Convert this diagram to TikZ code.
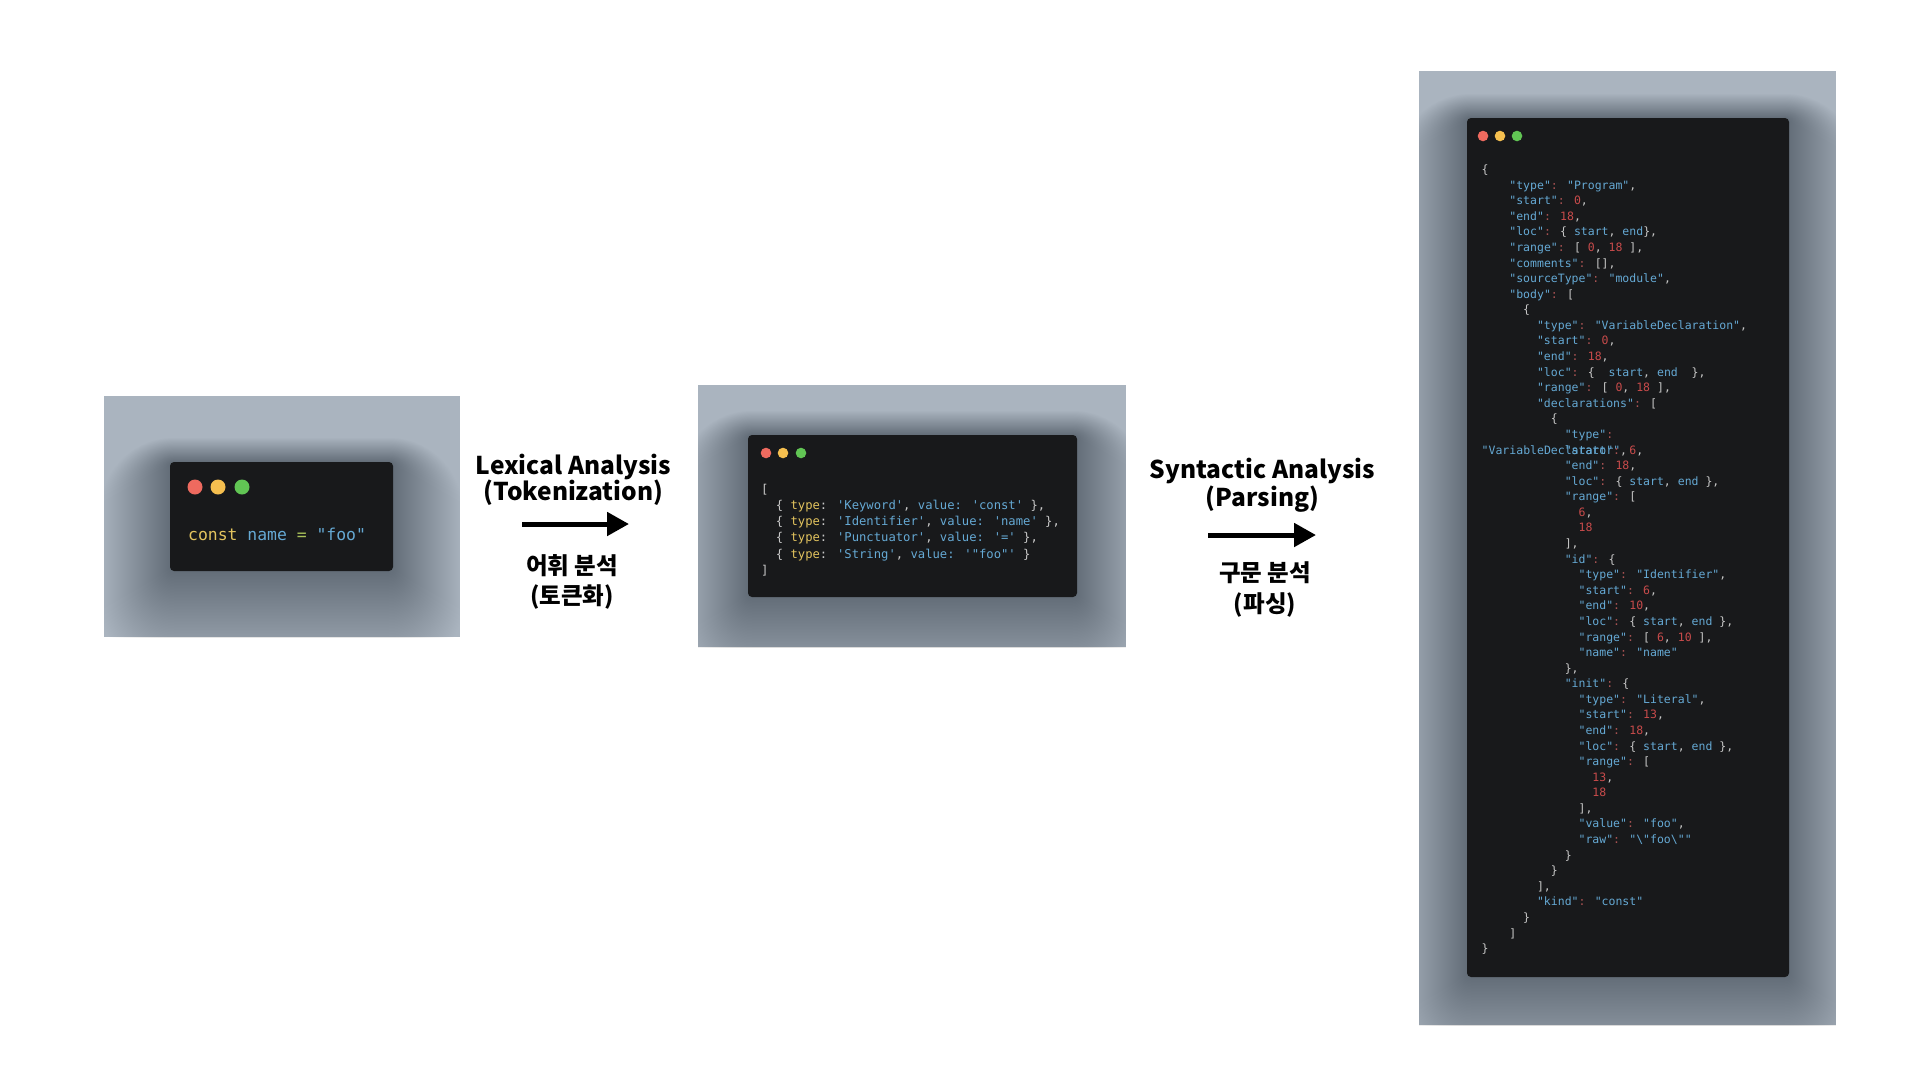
\documentclass[tikz,border=0pt]{standalone}
\usepackage{fontspec}
\usetikzlibrary{arrows.meta}
\newfontfamily\monof{DejaVu Sans Mono}
\newfontfamily\krf{Noto Sans CJK KR}
\definecolor{panelgray}{HTML}{AAB4BF}
\definecolor{winbg}{HTML}{18191B}
\definecolor{dotr}{HTML}{EE6A5F}
\definecolor{doty}{HTML}{F5BF4F}
\definecolor{dotg}{HTML}{61C554}
\definecolor{jkey}{HTML}{65A9D4}
\definecolor{jnum}{HTML}{C84B4B}
\definecolor{jcol}{HTML}{A85252}
\definecolor{jpun}{HTML}{C8C8C8}
\definecolor{jyel}{HTML}{E2C35E}
\definecolor{jgrn}{HTML}{A9C25A}
\newcommand\jK[1]{\textcolor{jkey}{#1}}
\newcommand\jN[1]{\textcolor{jnum}{#1}}
\newcommand\jC{\textcolor{jcol}{:}}
\newcommand\jY[1]{\textcolor{jyel}{#1}}
\newcommand\jG[1]{\textcolor{jgrn}{#1}}
\newcommand\jq{\textquotesingle}
\newcommand\winshadow[4]{%
  \foreach \i in {1,...,70}{%
    \pgfmathsetmacro\rr{4+1.0*\i}%
    \fill[black,opacity=0.005,rounded corners=\rr pt]
      ({#1-1.0*\i},{#2-0.35*\i}) rectangle ({#3+1.0*\i},{#4+1.5*\i});
  }%
}
% right panel line: col, line, content
\newcommand\rl[3]{\node[codeC] (r#2) at ({1481.5+6.92*#1},{173.6+15.58*(#2-1)}) {#3};}
\newcommand\ml[3]{\node[codeB] (m#2) at ({761+7.35*#1},{493+16.3*(#2-1)}) {#3};}
\begin{document}
\begin{tikzpicture}[x=1pt,y=-1pt,
  panel/.style={fill=panelgray,draw=none,inner sep=0,outer sep=0},
  window/.style={fill=winbg,draw=none,rounded corners=4pt,inner sep=0,outer sep=0},
  codeA/.style={font=\monof\fontsize{16.4}{19}\selectfont,inner sep=0,anchor=base west,text=jpun},
  codeB/.style={font=\monof\fontsize{12.2}{15}\selectfont,inner sep=0,anchor=base west,text=jpun},
  codeC/.style={font=\monof\fontsize{11.5}{14}\selectfont,inner sep=0,anchor=base west,text=jpun},
  title/.style={font=\krf\bfseries\fontsize{24.5}{28}\selectfont,inner sep=0,anchor=base,text=black},
  ktitle/.style={font=\krf\bfseries\fontsize{23.5}{28}\selectfont,inner sep=0,anchor=base,text=black},
  bigarrow/.style={line width=5pt,-{Triangle[length=22pt,width=23pt]}}
]
\useasboundingbox (0,0) rectangle (1920,1080);
\fill[white] (0,0) rectangle (1920,1080);

% ---------- panel 1 ----------
\node[panel,minimum width=356pt,minimum height=241pt] (p1) at (282,516.5) {};
\begin{scope}
  \clip (104,396) rectangle (460,637);
  \winshadow{170}{462}{393}{571}
\end{scope}
\node[window,minimum width=223pt,minimum height=109pt] (w1) at (281.5,516.5) {};
\fill[dotr] (195,487) circle[radius=7.5pt];
\fill[doty] (218,487) circle[radius=7.5pt];
\fill[dotg] (242,487) circle[radius=7.5pt];
\node[codeA] (c1) at (188,540) {\jY{const} \jK{name} \jG{=} \jK{"foo"}};

% ---------- panel 2 ----------
\node[panel,minimum width=428pt,minimum height=262pt] (p2) at (912,516) {};
\begin{scope}
  \clip (698,385) rectangle (1126,647);
  \winshadow{748}{435}{1077}{597}
\end{scope}
\node[window,minimum width=329pt,minimum height=162pt] (w2) at (912.5,516) {};
\fill[dotr] (766,453) circle[radius=5.3pt];
\fill[doty] (783,453) circle[radius=5.3pt];
\fill[dotg] (801,453) circle[radius=5.3pt];
\ml{0}{1}{[}
\ml{2}{2}{\{ \jY{type}: \jK{\jq Keyword\jq}, \jK{value:} \jK{\jq const\jq} \},}
\ml{2}{3}{\{ \jY{type}: \jK{\jq Identifier\jq}, \jK{value:} \jK{\jq name\jq} \},}
\ml{2}{4}{\{ \jY{type}: \jK{\jq Punctuator\jq}, \jK{value:} \jK{\jq=\jq} \},}
\ml{2}{5}{\{ \jY{type}: \jK{\jq String\jq}, \jK{value:} \jK{\jq"foo"\jq} \}}
\ml{0}{6}{]}

% ---------- panel 3 ----------
\node[panel,minimum width=417pt,minimum height=954pt] (p3) at (1627.5,548) {};
\begin{scope}
  \clip (1419,71) rectangle (1836,1025);
  \winshadow{1467}{118}{1789}{977}
\end{scope}
\node[window,minimum width=322pt,minimum height=859pt] (w3) at (1628,547.5) {};
\fill[dotr] (1483,136) circle[radius=5.3pt];
\fill[doty] (1500,136) circle[radius=5.3pt];
\fill[dotg] (1517,136) circle[radius=5.3pt];
\rl{0}{1}{\{}
\rl{4}{2}{\jK{"type"}\jC{} \jK{"Program"},}
\rl{4}{3}{\jK{"start"}\jC{} \jN{0},}
\rl{4}{4}{\jK{"end"}\jC{} \jN{18},}
\rl{4}{5}{\jK{"loc"}\jC{} \{ \jK{start}, \jK{end}\},}
\rl{4}{6}{\jK{"range"}\jC{} [ \jN{0}, \jN{18} ],}
\rl{4}{7}{\jK{"comments"}\jC{} [],}
\rl{4}{8}{\jK{"sourceType"}\jC{} \jK{"module"},}
\rl{4}{9}{\jK{"body"}\jC{} [}
\rl{6}{10}{\{}
\rl{8}{11}{\jK{"type"}\jC{} \jK{"VariableDeclaration"},}
\rl{8}{12}{\jK{"start"}\jC{} \jN{0},}
\rl{8}{13}{\jK{"end"}\jC{} \jN{18},}
\rl{8}{14}{\jK{"loc"}\jC{} \{~ \jK{start}, \jK{end}~ \},}
\rl{8}{15}{\jK{"range"}\jC{} [ \jN{0}, \jN{18} ],}
\rl{8}{16}{\jK{"declarations"}\jC{} [}
\rl{10}{17}{\{}
\rl{12}{18}{\jK{"type"}\jC}
\node[codeC] (r19a) at (1481.5,{173.6+15.58*18}) {\jK{"VariableDeclarator"},};
\rl{12}{19}{\jK{"start"}\jC{} \jN{6},}
\rl{12}{20}{\jK{"end"}\jC{} \jN{18},}
\rl{12}{21}{\jK{"loc"}\jC{} \{ \jK{start}, \jK{end} \},}
\rl{12}{22}{\jK{"range"}\jC{} [}
\rl{14}{23}{\jN{6},}
\rl{14}{24}{\jN{18}}
\rl{12}{25}{],}
\rl{12}{26}{\jK{"id"}\jC{} \{}
\rl{14}{27}{\jK{"type"}\jC{} \jK{"Identifier"},}
\rl{14}{28}{\jK{"start"}\jC{} \jN{6},}
\rl{14}{29}{\jK{"end"}\jC{} \jN{10},}
\rl{14}{30}{\jK{"loc"}\jC{} \{ \jK{start}, \jK{end} \},}
\rl{14}{31}{\jK{"range"}\jC{} [ \jN{6}, \jN{10} ],}
\rl{14}{32}{\jK{"name"}\jC{} \jK{"name"}}
\rl{12}{33}{\},}
\rl{12}{34}{\jK{"init"}\jC{} \{}
\rl{14}{35}{\jK{"type"}\jC{} \jK{"Literal"},}
\rl{14}{36}{\jK{"start"}\jC{} \jN{13},}
\rl{14}{37}{\jK{"end"}\jC{} \jN{18},}
\rl{14}{38}{\jK{"loc"}\jC{} \{ \jK{start}, \jK{end} \},}
\rl{14}{39}{\jK{"range"}\jC{} [}
\rl{16}{40}{\jN{13},}
\rl{16}{41}{\jN{18}}
\rl{14}{42}{],}
\rl{14}{43}{\jK{"value"}\jC{} \jK{"foo"},}
\rl{14}{44}{\jK{"raw"}\jC{} \jK{"\textbackslash"foo\textbackslash""}}
\rl{12}{45}{\}}
\rl{10}{46}{\}}
\rl{8}{47}{],}
\rl{8}{48}{\jK{"kind"}\jC{} \jK{"const"}}
\rl{6}{49}{\}}
\rl{4}{50}{]}
\rl{0}{51}{\}}

% ---------- labels and arrows ----------
\node[title] (lexA) at (573.5,474) {Lexical Analysis};
\node[title] (lexB) at (573.5,500) {(Tokenization)};
\coordinate (lexS) at (522,524);
\coordinate (lexE) at (629,524);
\draw[bigarrow] (lexS) -- (lexE);
\node[ktitle] (lexK1) at (572,574) {어휘 분석};
\node[ktitle] (lexK2) at (572,604) {(토큰화)};

\node[title] (synA) at (1262.5,478) {Syntactic Analysis};
\node[title] (synB) at (1262.5,506) {(Parsing)};
\coordinate (synS) at (1208,535);
\coordinate (synE) at (1316,535);
\draw[bigarrow] (synS) -- (synE);
\node[ktitle] (synK1) at (1265,581) {구문 분석};
\node[ktitle] (synK2) at (1265,612) {(파싱)};
\end{tikzpicture}
\end{document}
